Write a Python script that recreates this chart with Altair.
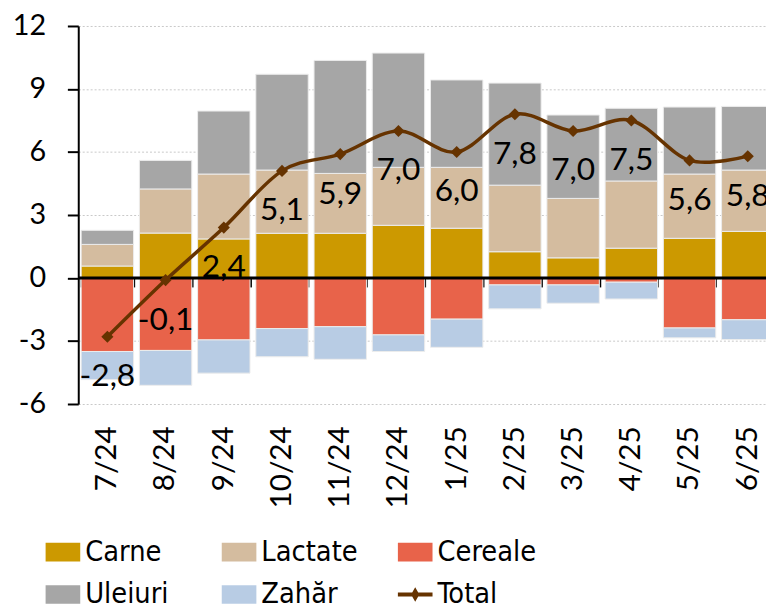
import altair as alt
import pandas as pd

months = ["7/24", "8/24", "9/24", "10/24", "11/24", "12/24", "1/25", "2/25", "3/25", "4/25", "5/25", "6/25"]
carne = [0.57, 2.14, 1.86, 2.13, 2.13, 2.51, 2.37, 1.25, 0.96, 1.42, 1.89, 2.22]
lactate = [1.03, 2.10, 3.09, 3.01, 2.85, 2.76, 2.90, 3.17, 2.83, 3.20, 3.06, 2.92]
cereale = [-3.50, -3.45, -2.95, -2.41, -2.32, -2.71, -1.96, -0.33, -0.33, -0.20, -2.38, -1.99]
uleiuri = [0.67, 1.36, 3.00, 4.56, 5.38, 5.44, 4.16, 4.86, 3.97, 3.46, 3.19, 3.03]
zahar = [-1.34, -1.66, -1.58, -1.34, -1.55, -0.79, -1.34, -1.14, -0.87, -0.80, -0.47, -0.94]
total = [-2.8, -0.1, 2.4, 5.1, 5.9, 7.0, 6.0, 7.8, 7.0, 7.5, 5.6, 5.8]

series = ["Carne", "Lactate", "Cereale", "Uleiuri", "Zahăr", "Total"]
colors = ["#CC9900", "#D4BC9F", "#E8634A", "#A6A6A6", "#B8CCE4", "#663300"]
y_ticks = [-6, -3, 0, 3, 6, 9, 12]

rect_path = "M-1,-0.54H1V0.54H-1Z"
total_path = "M-1,-0.11H1V0.11H-1Z M0,-0.42L0.24,0L0,0.42L-0.24,0Z"
shapes = [rect_path] * 5 + [total_path]

rows = []
for name, vals in zip(series[:5], [carne, lactate, cereale, uleiuri, zahar]):
    for m, v in zip(months, vals):
        rows.append({"month": m, "series": name, "value": v, "idx": series.index(name)})
bars_df = pd.DataFrame(rows)
tot_df = pd.DataFrame({"month": months, "total": total, "series": ["Total"] * len(months)})

xscale = alt.Scale(domain=months, range=[0, 706], paddingInner=0.1, paddingOuter=0.05)
yscale = alt.Scale(domain=[-6, 12], nice=False, zero=False)
color_scale = alt.Scale(domain=series, range=colors)
shape_scale = alt.Scale(domain=series, range=shapes)

label_axis = alt.Axis(orient="bottom", labelAngle=-90, labelFontSize=30, labelFont="Lato",
                      labelColor="black", labelPadding=22, ticks=False, domain=False,
                      title=None, grid=False)
tick_axis = alt.Axis(orient="bottom", offset=-127.3, labels=False, domain=False, ticks=True,
                     tickBand="extent", tickSize=9, tickWidth=2, tickColor="black",
                     title=None, grid=False)
yaxis = alt.Axis(values=y_ticks, domainColor="black", domainWidth=2, tickColor="black",
                 tickWidth=2, tickSize=11, labelFontSize=29, labelFont="Lato",
                 labelColor="black", labelPadding=22, gridDash=[2, 2], gridColor="#c8c8c8",
                 gridWidth=1, title=None, labelExpr="'' + datum.value")

legend = alt.Legend(title=None, orient="none", legendX=-33, legendY=514, columns=3,
                    direction="horizontal",
                    symbolSize=1225, labelFontSize=29, labelFont="DejaVu Sans Condensed",
                    labelColor="black", labelOffset=5, columnPadding=38, rowPadding=10,
                    gridAlign="all", symbolStrokeWidth=0, symbolOpacity=1)

Y = lambda f: alt.Y(f, scale=yscale, axis=yaxis, title=None)

bars = alt.Chart(bars_df).mark_bar(stroke="#ececec", strokeWidth=1).encode(
    x=alt.X("month:N", sort=months, scale=xscale, axis=label_axis),
    y=alt.Y("value:Q", scale=yscale, axis=yaxis, title=None, stack="zero"),
    color=alt.Color("series:N", scale=color_scale, legend=legend),
    order=alt.Order("idx:Q"),
)

zero = alt.Chart(pd.DataFrame({"z": [0]})).mark_rule(color="black", strokeWidth=3).encode(
    y=Y("z:Q")
)

line = alt.Chart(tot_df).mark_line(color="#663300", strokeWidth=3.5, interpolate="cardinal").encode(
    x=alt.X("month:N", sort=months, scale=xscale, axis=tick_axis),
    y=Y("total:Q"),
)

pts = alt.Chart(tot_df).mark_point(shape="diamond", filled=True, size=150, color="#663300", opacity=1).encode(
    x=alt.X("month:N", sort=months, scale=xscale, axis=None),
    y=Y("total:Q"),
)

labels = alt.Chart(tot_df).transform_calculate(
    lab="replace(replace(format(datum.total, '.1f'), '.', ','), '\u2212', '-')"
).mark_text(dy=40, fontSize=32, font="Lato", color="black", baseline="middle", align="center").encode(
    x=alt.X("month:N", sort=months, scale=xscale, axis=None),
    y=Y("total:Q"),
    text="lab:N",
)

dummy = alt.Chart(tot_df).mark_point(filled=True, opacity=0).encode(
    x=alt.X("month:N", sort=months, scale=xscale, axis=None),
    y=Y("total:Q"),
    color=alt.Color("series:N", scale=color_scale, legend=legend),
    shape=alt.Shape("series:N", scale=shape_scale, legend=legend),
)

chart = alt.layer(bars, zero, line, pts, labels, dummy).resolve_axis(x="independent").properties(
    width=695, height=382,
    autosize=alt.AutoSizeParams(type="none"),
    padding={"left": 71, "top": 15, "right": 0, "bottom": 205},
    background="white",
).configure_view(stroke=None)

chart.save("out.html", embed_options={"renderer": "svg", "actions": False})
